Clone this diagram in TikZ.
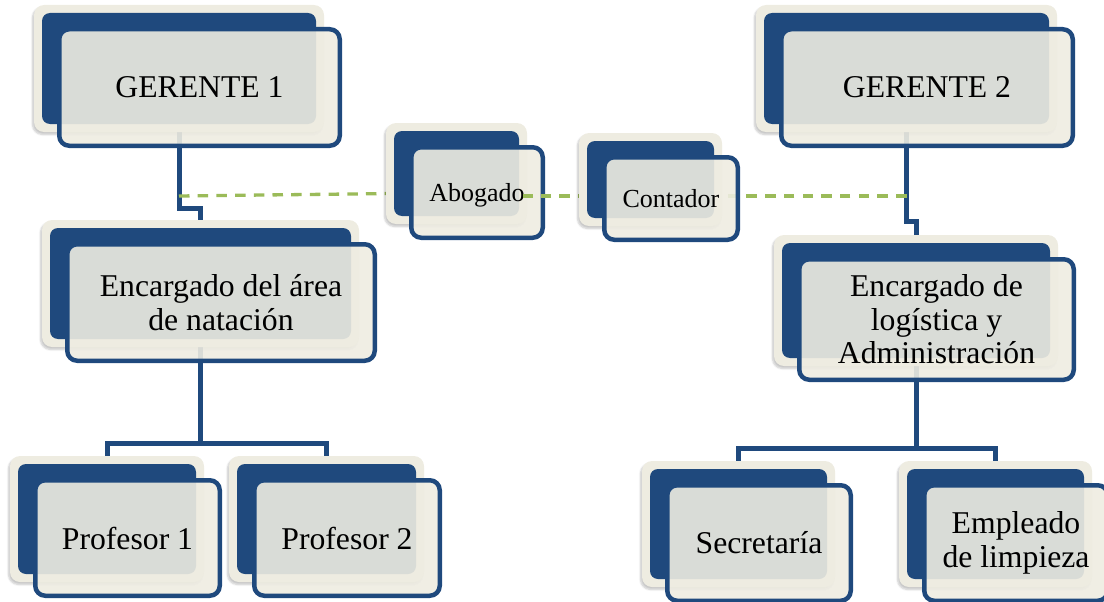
\documentclass[tikz,border=0pt]{standalone}
\usepackage{fontspec}
\setmainfont{Liberation Serif}
\usetikzlibrary{calc,shadows.blur}
\definecolor{dkblue}{RGB}{31,73,125}
\definecolor{cream}{RGB}{238,236,225}
\definecolor{olive}{RGB}{155,187,89}
\tikzset{
 backbox/.style={fill=cream, rounded corners=10pt, inner sep=0pt, outer sep=0pt,
   blur shadow={shadow xshift=-1.5pt, shadow yshift=-2.5pt, shadow opacity=22, shadow blur steps=6}},
 darkbox/.style={fill=dkblue, rounded corners=8pt, inner sep=0pt, outer sep=0pt},
 frontbox/.style={draw=dkblue, line width=4.5pt, fill=cream, fill opacity=0.9, text opacity=1,
   rounded corners=10pt, inner sep=0pt, outer sep=0pt, align=center, text=black},
 ghost/.style={inner sep=0pt, outer sep=0pt},
 conn/.style={draw=dkblue, line width=5pt},
 dashline/.style={draw=olive, line width=3.3pt, dash pattern=on 10.5pt off 8.2pt},
 bigtxt/.style={font=\fontsize{31.7}{33.5}\selectfont},
 smalltxt/.style={font=\fontsize{26}{30}\selectfont, text depth=0pt},
}
% #1 name, #2 x1, #3 y1, #4 x2, #5 y2 (outer edges of front box), #6 text style, #7 text
\newcommand\oboxplace[5]{%
  \node[ghost, minimum width={#4-#2-11}, minimum height={#5-#3-10}] (#1d) at ({(#2+#4)/2-20.5},{(#3+#5)/2-19}) {};
  \node[ghost, minimum width={#4-#2-4.5}, minimum height={#5-#3-4.5}] (#1) at ({(#2+#4)/2},{(#3+#5)/2}) {};
}
\newcommand\obox[7]{%
  \node[backbox, minimum width={#4-#2+5}, minimum height={#5-#3+6}] (#1b) at ({(#2+#4)/2-20.5},{(#3+#5)/2-19}) {};
  \node[darkbox, minimum width={#4-#2-11}, minimum height={#5-#3-10}] (#1d) at ({(#2+#4)/2-20.5},{(#3+#5)/2-19}) {};
  \node[frontbox, #6, minimum width={#4-#2-4.5}, minimum height={#5-#3-4.5}] (#1) at ({(#2+#4)/2},{(#3+#5)/2}) {#7};
}
\begin{document}
\begin{tikzpicture}[x=1pt,y=-1pt]
\useasboundingbox (0,0) rectangle (1104,602);
% positions first, so that the connectors can lie behind the boxes
\oboxplace{g1}{57}{27}{342}{148}
\oboxplace{g2}{779}{27}{1075}{148}
\oboxplace{e1}{65}{242}{377}{363}
\oboxplace{e2}{797}{257}{1076}{382}
\oboxplace{p1}{33}{478}{222}{598}
\oboxplace{p2}{252}{478}{442}{598}
\oboxplace{se}{665}{483}{853}{603}
\oboxplace{em}{922}{483}{1110}{603}
\oboxplace{ab}{409}{145}{545}{240}
\coordinate (dashL) at (g1d.south |- 0,196);
\coordinate (dashR) at (g2d.south |- 0,196);
\coordinate (abt) at (523,196);
\draw[conn] (g1d.south) |- ($(e1d.north)+(0,-20)$) -- (e1d.north);
\draw[conn] (g2d.south) |- ($(e2d.north)+(0,-22)$) -- (e2d.north);
\draw[conn] (e1d.south) |- ($(p1d.north)+(0,-21)$) -- (p1d.north);
\draw[conn] (e1d.south) |- ($(p2d.north)+(0,-21)$) -- (p2d.north);
\draw[conn] (e2d.south) |- ($(sed.north)+(0,-21)$) -- (sed.north);
\draw[conn] (e2d.south) |- ($(emd.north)+(0,-21)$) -- (emd.north);
\draw[dashline] (dashL) -- (ab.center);
% boxes
\obox{g1}{57}{27}{342}{148}{bigtxt}{GERENTE 1}
\obox{g2}{779}{27}{1075}{148}{bigtxt}{GERENTE 2}
\obox{e1}{65}{242}{377}{363}{bigtxt}{Encargado del área\\de natación}
\obox{e2}{797}{257}{1076}{382}{bigtxt}{Encargado de\\logística y\\Administración}
\obox{p1}{33}{478}{222}{598}{bigtxt}{Profesor 1}
\obox{p2}{252}{478}{442}{598}{bigtxt}{Profesor 2}
\obox{se}{665}{483}{853}{603}{bigtxt}{Secretaría}
\obox{em}{922}{483}{1110}{603}{bigtxt}{Empleado\\de limpieza}
\obox{ab}{409}{145}{545}{240}{smalltxt}{Abogado}
\draw[dashline] (dashR) -- (abt);
\obox{co}{602}{155}{740}{242}{smalltxt}{Contador}
\end{tikzpicture}
\end{document}
